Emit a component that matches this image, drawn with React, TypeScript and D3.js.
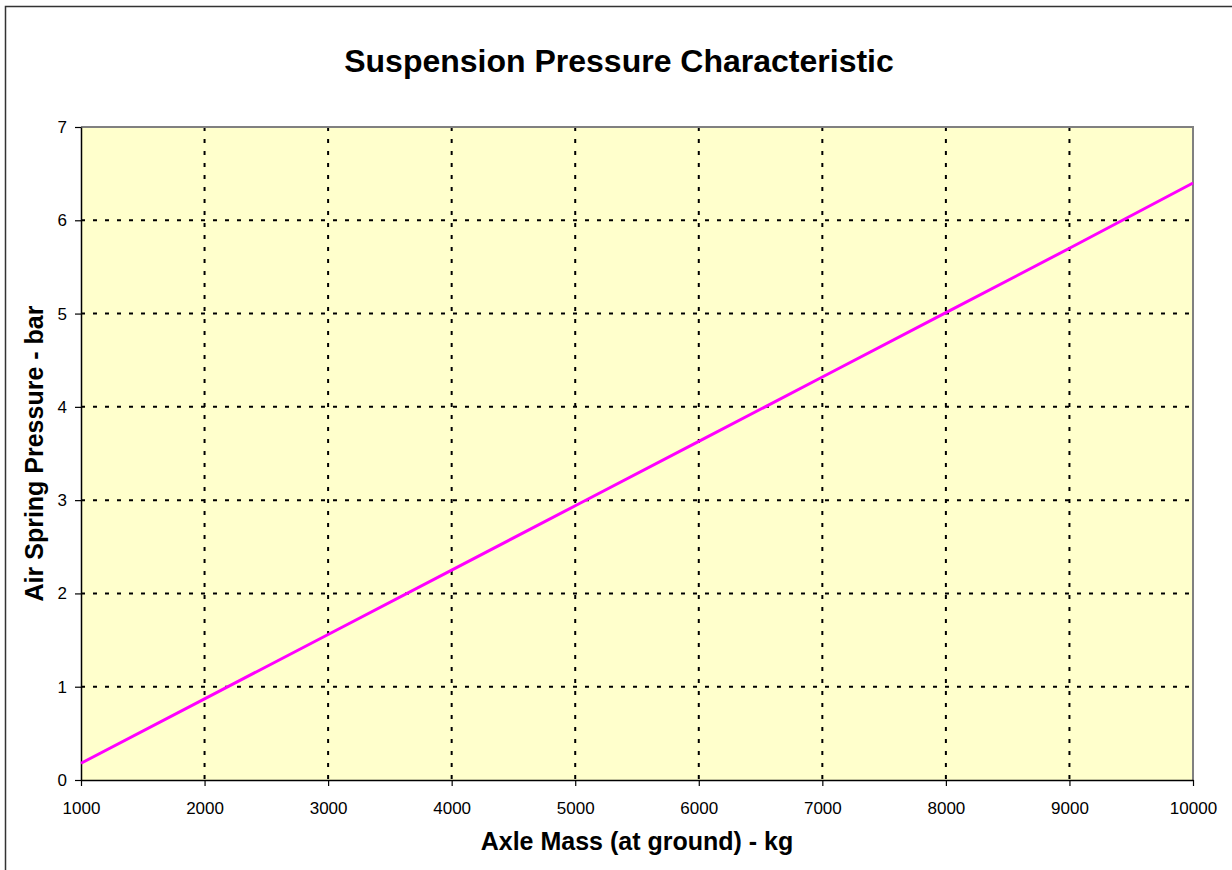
import { useEffect, useRef } from 'react';
import * as d3 from 'd3';

// Axle mass (kg) and air spring pressure (bar)
const axleMass = [1000, 2000, 3000, 4000, 5000, 6000, 7000, 8000, 9000, 10000];
const pressure = [0.18, 0.87, 1.56, 2.25, 2.94, 3.63, 4.32, 5.01, 5.70, 6.40];

const xTicks = [1000, 2000, 3000, 4000, 5000, 6000, 7000, 8000, 9000, 10000];
const yTicks = [0, 1, 2, 3, 4, 5, 6, 7];

const title = 'Suspension Pressure Characteristic';
const xTitle = 'Axle Mass (at ground) - kg';
const yTitle = 'Air Spring Pressure - bar';

export default function App() {
    const ref = useRef<SVGSVGElement>(null);

    useEffect(() => {
        const width = 1232, height = 870;
        const margin = { top: 127, right: 39, bottom: 90, left: 81 };
        const font = '"Liberation Sans", Arial, sans-serif';

        const svg = d3.select(ref.current);
        svg.selectAll('*').remove();

        // outer chart frame (runs off the right / bottom edge)
        svg.append('rect')
            .attr('x', 5.5).attr('y', 6.5)
            .attr('width', 1240).attr('height', 880)
            .attr('fill', '#fff')
            .attr('stroke', '#333').attr('stroke-width', 1.5);

        const x = d3.scaleLinear().domain([1000, 10000]).range([margin.left, width - margin.right]);
        const y = d3.scaleLinear().domain([0, 7]).range([height - margin.bottom, margin.top]);

        const [x0, x1] = x.range();
        const [y0, y1] = y.range();

        // plot area
        svg.append('rect')
            .attr('x', x0).attr('y', y1)
            .attr('width', x1 - x0).attr('height', y0 - y1)
            .attr('fill', '#FFFFCC');

        // dashed gridlines
        const grid = svg.append('g')
            .attr('stroke', '#000').attr('stroke-width', 2)
            .attr('stroke-dasharray', '4,8');
        grid.selectAll('line.v')
            .data(xTicks.slice(1, -1))
            .join('line')
            .attr('class', 'v')
            .attr('x1', d => x(d)).attr('x2', d => x(d))
            .attr('y1', y1).attr('y2', y0);
        grid.selectAll('line.h')
            .data(yTicks.slice(1))
            .join('line')
            .attr('class', 'h')
            .attr('x1', x0).attr('x2', x1)
            .attr('y1', d => y(d)).attr('y2', d => y(d));

        // gray border on top/right
        svg.append('path')
            .attr('d', `M${x0},${y1}H${x1}V${y0}`)
            .attr('fill', 'none')
            .attr('stroke', '#808080').attr('stroke-width', 2);

        // axes
        const xAxis = svg.append('g')
            .attr('transform', `translate(0,${y0})`)
            .call(d3.axisBottom(x).tickValues(xTicks).tickSize(6).tickSizeOuter(0).tickPadding(16).tickFormat(d3.format('d')));
        const yAxis = svg.append('g')
            .attr('transform', `translate(${x0},0)`)
            .call(d3.axisLeft(y).tickValues(yTicks).tickSize(6).tickSizeOuter(0).tickPadding(8).tickFormat(d3.format('d')));

        [xAxis, yAxis].forEach(a => {
            a.select('.domain').attr('stroke', '#000').attr('stroke-width', 1.5);
            a.selectAll('.tick line').attr('stroke', '#000').attr('stroke-width', 1.2);
            a.selectAll('.tick text')
                .attr('fill', '#000')
                .style('font-family', font)
                .style('font-size', '17px');
        });

        // data line
        const line = d3.line<number>()
            .x((_, i) => x(axleMass[i]))
            .y(d => y(d));
        svg.append('path')
            .datum(pressure)
            .attr('d', line)
            .attr('fill', 'none')
            .attr('stroke', '#FF00FF')
            .attr('stroke-width', 3);

        // titles
        svg.append('text')
            .attr('x', 619).attr('y', 72)
            .attr('text-anchor', 'middle')
            .style('font-family', font).style('font-size', '32px').style('font-weight', 'bold')
            .text(title);

        svg.append('text')
            .attr('x', (x0 + x1) / 2).attr('y', 850)
            .attr('text-anchor', 'middle')
            .style('font-family', font).style('font-size', '25px').style('font-weight', 'bold')
            .text(xTitle);

        svg.append('text')
            .attr('transform', `translate(43,${(y0 + y1) / 2}) rotate(-90)`)
            .attr('text-anchor', 'middle')
            .style('font-family', font).style('font-size', '25px').style('font-weight', 'bold')
            .text(yTitle);
    }, []);

    return (
        <div style={{ position: 'absolute', left: 0, top: 0 }}>
            <svg ref={ref} width={1232} height={870} style={{ display: 'block' }} />
        </div>
    );
}
